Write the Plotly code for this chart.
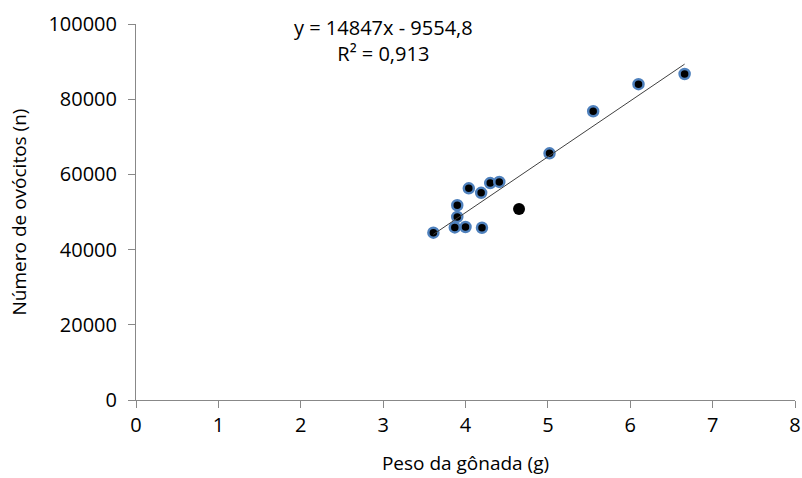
import numpy as np
import plotly.graph_objects as go

# Gonad weight (g) and oocyte count (n) per female
peso = [3.61, 3.87, 4.00, 4.20, 3.90, 3.90, 4.04, 4.19, 4.30, 4.41, 5.02, 5.55, 6.10, 6.66]
ovocitos = [44500, 45900, 46000, 45800, 48700, 51800, 56300, 55100, 57700, 58000, 65600, 76800, 84000, 86700]

# Point drawn without outline
peso_extra = [4.65]
ovocitos_extra = [50800]

# Linear trendline coefficients and fit quality
slope = 14847
intercept = -9554.8
r2 = 0.913

x_ticks = [0, 1, 2, 3, 4, 5, 6, 7, 8]
y_ticks = [0, 20000, 40000, 60000, 80000, 100000]

FONT = "Open Sans"

fig = go.Figure()

fig.add_trace(go.Scatter(
    x=peso, y=ovocitos, mode="markers",
    marker=dict(size=10, color="black", line=dict(color="#4f81bd", width=2.5)),
    showlegend=False,
))
fig.add_trace(go.Scatter(
    x=peso_extra, y=ovocitos_extra, mode="markers",
    marker=dict(size=12, color="black"),
    showlegend=False,
))

x_line = np.array([min(peso), max(peso)])
fig.add_trace(go.Scatter(
    x=x_line, y=slope * x_line + intercept, mode="lines",
    line=dict(color="#404040", width=1),
    showlegend=False,
))

def fmt(v):
    return f"{v:g}".replace(".", ",")

eq_text = f"y = {slope}x - {fmt(abs(intercept))}<br>R² = {fmt(r2)}"
fig.add_annotation(
    x=3.0, y=95600, xref="x", yref="y", text=eq_text, showarrow=False,
    font=dict(family=FONT, size=20, color="black"), align="center",
)

axis_common = dict(
    showgrid=False, zeroline=False, showline=True, linecolor="#888888", linewidth=1,
    ticks="outside", ticklen=7, tickcolor="#888888", tickwidth=1,
    tickfont=dict(family=FONT, size=20, color="black"),
    automargin=False,
)

fig.update_xaxes(
    range=[0, 8], tickvals=x_ticks, ticktext=[str(t) for t in x_ticks],
    title=dict(text="Peso da gônada (g)", font=dict(family=FONT, size=19, color="black"), standoff=19),
    **axis_common,
)
fig.update_yaxes(
    range=[0, 100000], tickvals=y_ticks, ticktext=[str(t) for t in y_ticks],
    ticklabelstandoff=7,
    title=dict(text="Número de ovócitos (n)", font=dict(family=FONT, size=19, color="black"), standoff=16),
    **axis_common,
)

fig.update_layout(
    width=802, height=478,
    margin=dict(l=136, r=7, t=24, b=78),
    plot_bgcolor="white", paper_bgcolor="white",
)

fig.write_html("out.html")
